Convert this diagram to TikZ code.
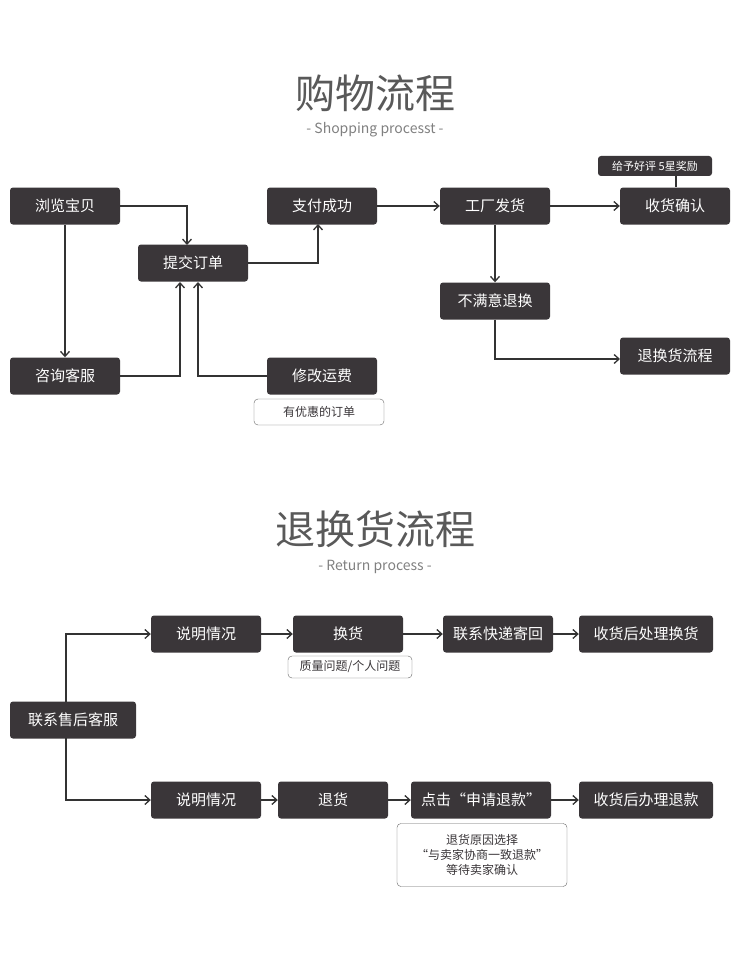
\documentclass[tikz,border=0pt]{standalone}
\usepackage{fontspec}
\setmainfont{Noto Sans CJK SC}
\usetikzlibrary{arrows.meta}
\definecolor{bx}{HTML}{3A3639}
\definecolor{ln}{HTML}{333333}
\begin{document}
\begin{tikzpicture}[x=1pt,y=-1pt,
 box/.style={fill=bx,rounded corners=3pt,text=white,minimum width=110pt,minimum height=37pt,inner sep=0pt,font=\fontsize{15}{15}\selectfont},
 note/.style={draw=gray!80!black,rounded corners=4pt,fill=white,inner sep=0pt,font=\fontsize{12}{15}\selectfont,text=bx,align=center},
 con/.style={draw=ln,line width=1.3pt,-{Straight Barb[length=5pt,width=9pt]}},
 ttl/.style={text=gray!70!black,font=\fontsize{40}{40}\selectfont},
 sub/.style={text=gray,font=\fontsize{14}{14}\selectfont}]
\useasboundingbox (0,0) rectangle (750,960);
\node[ttl] (t1) at (375,93) {购物流程};
\node[sub] (s1) at (375,130) {- Shopping processt -};
\node[ttl] (t2) at (375,529) {退换货流程};
\node[sub] (s2) at (375,567) {- Return process -};

\node[box] (a) at (65,206) {浏览宝贝};
\node[box] (b) at (193,263) {提交订单};
\node[box] (c) at (322,206) {支付成功};
\node[box] (d) at (495,206) {工厂发货};
\node[box] (e) at (675,206) {收货确认};
\node[box,minimum width=114pt,minimum height=20pt,font=\fontsize{11}{11}\selectfont] (g) at (655,166) {给予好评 5星奖励};
\node[box] (f) at (495,301) {不满意退换};
\node[box] (h) at (675,356) {退换货流程};
\node[box] (i) at (65,376) {咨询客服};
\node[box] (j) at (322,376) {修改运费};
\node[note,minimum width=130pt,minimum height=26pt] (k) at (319,412) {有优惠的订单};
\draw[draw=ln,line width=1.3pt] (676,176) -- (676,187);

\draw[con] (a.east) -| (187,245);
\draw[con] (a.south) -- (i.north);
\draw[con] (i.east) -| (180,282);
\draw[con] (j.west) -| (198,282);
\draw[con] (b.east) -| (318,224);
\draw[con] (c) -- (d);
\draw[con] (d) -- (e);
\draw[con] (d) -- (f);
\draw[con] (f.south) |- (620,359);

\node[box,minimum width=126pt] (m) at (73,720) {联系售后客服};
\node[box] (n1) at (206,634) {说明情况};
\node[box] (n2) at (348,634) {换货};
\node[box] (n3) at (498,634) {联系快递寄回};
\node[box,minimum width=134pt] (n4) at (646,634) {收货后处理换货};
\node[note,minimum width=124pt,minimum height=22pt] (q) at (350,667) {质量问题/个人问题};
\node[box] (p1) at (206,800) {说明情况};
\node[box] (p2) at (333,800) {退货};
\node[box,minimum width=140pt] (p3) at (481,800) {点击“申请退款”};
\node[box,minimum width=134pt] (p4) at (646,800) {收货后办理退款};
\node[note,minimum width=170pt,minimum height=63pt] (r) at (482,855) {退货原因选择\\“与卖家协商一致退款”\\等待卖家确认};

\draw[con] (66,702) |- (n1.west);
\draw[con] (66,738) |- (p1.west);
\draw[con] (n1) -- (n2);
\draw[con] (n2) -- (n3);
\draw[con] (n3) -- (n4);
\draw[con] (p1) -- (p2);
\draw[con] (p2) -- (p3);
\draw[con] (p3) -- (p4);
\end{tikzpicture}
\end{document}
